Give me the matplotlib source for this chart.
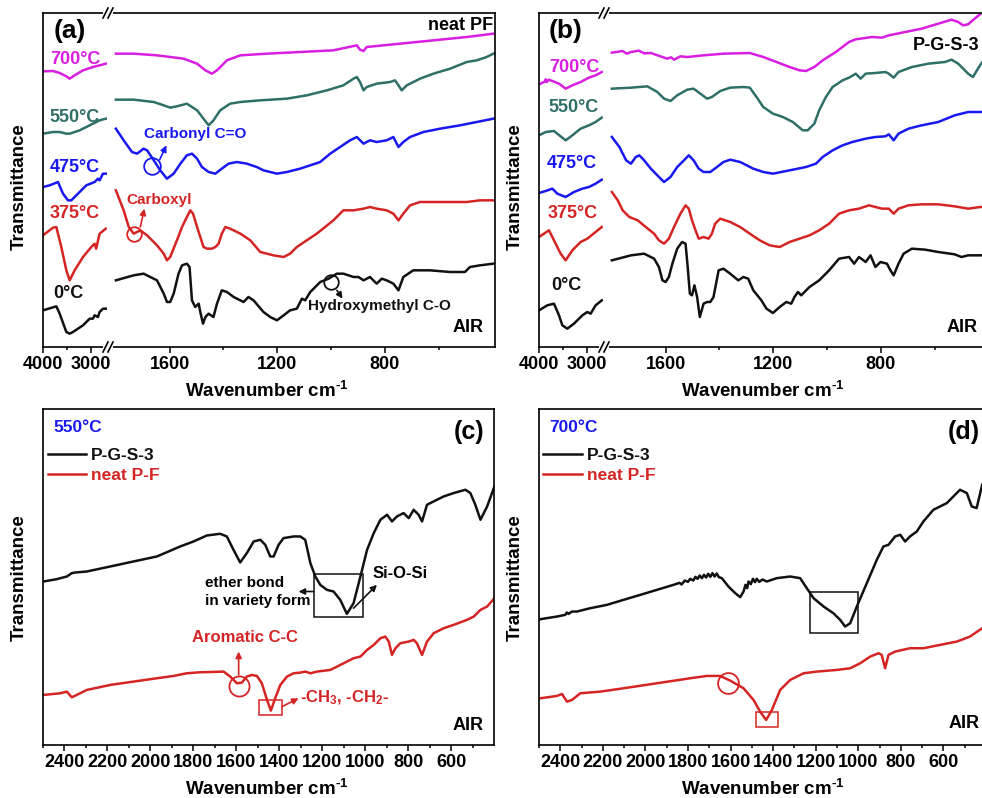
import matplotlib
matplotlib.use('Agg')
import numpy as np
import matplotlib.pyplot as plt
from matplotlib.patches import Rectangle
from matplotlib.lines import Line2D

plt.rcParams['font.family'] = ['Liberation Sans', 'DejaVu Sans']
plt.rcParams['font.weight'] = 'bold'
plt.rcParams['mathtext.fontset'] = 'custom'
plt.rcParams['mathtext.rm'] = 'Liberation Sans:bold'
plt.rcParams['mathtext.it'] = 'Liberation Sans:bold'
plt.rcParams['mathtext.bf'] = 'Liberation Sans:bold'
plt.rcParams['mathtext.default'] = 'rm'

# ============================================================
# spectra: (wavenumber cm-1, transmittance a.u.)
# HI = 4000-2700 window, LO = 1800-400 window
# ============================================================

# ---- (a) neat PF ----
PF_0_HI = [(4000, 11.0), (3724, 12.2), (3655, 10.0), (3517, 4.5), (3448, 4.0), (3380, 4.5),
           (3172, 6.5), (3034, 8.5), (2966, 8.5), (2931, 9.5), (2862, 9.0), (2828, 10.5),
           (2759, 11.5), (2700, 11.5)]
PF_0_LO = [(1800, 20.0), (1734, 21.5), (1697, 22.0), (1647, 20.0), (1622, 16.0), (1610, 13.5),
           (1598, 13.5), (1585, 16.0), (1567, 22.0), (1554, 24.5), (1536, 25.0), (1526, 24.0),
           (1517, 14.0), (1505, 12.0), (1492, 13.0), (1486, 10.5), (1476, 7.0), (1467, 9.0),
           (1455, 10.0), (1437, 9.0), (1424, 13.0), (1406, 17.0), (1387, 16.5), (1362, 15.0),
           (1325, 13.5), (1307, 15.0), (1288, 14.0), (1251, 10.5), (1226, 9.0), (1201, 8.0),
           (1176, 9.5), (1152, 11.0), (1127, 11.5), (1108, 14.5), (1096, 14.0), (1077, 16.5),
           (1040, 19.5), (1009, 20.5), (978, 22.0), (954, 22.0), (916, 21.0), (898, 21.0),
           (879, 20.0), (855, 21.0), (830, 19.0), (811, 20.5), (793, 20.0), (768, 19.0),
           (749, 17.0), (731, 21.0), (694, 23.0), (632, 23.0), (557, 22.5), (502, 22.5),
           (483, 24.0), (446, 24.5), (396, 25.0)]

PF_375_HI = [(4000, 33.5), (3793, 35.8), (3724, 36.0), (3621, 30.0), (3517, 23.0), (3448, 20.0),
             (3345, 23.0), (3172, 27.0), (3000, 30.0), (2931, 31.0), (2900, 29.5), (2828, 34.0),
             (2700, 35.5)]
PF_375_LO = [(1800, 47.0), (1771, 41.0), (1752, 36.0), (1734, 34.0), (1709, 35.0), (1684, 33.5),
             (1647, 30.5), (1622, 28.0), (1610, 26.0), (1598, 27.0), (1573, 32.0), (1554, 36.0),
             (1536, 39.0), (1523, 41.0), (1513, 40.0), (1498, 36.0), (1486, 33.0), (1474, 30.0),
             (1461, 29.5), (1443, 29.5), (1430, 30.0), (1418, 31.0), (1406, 34.0), (1393, 36.0),
             (1375, 35.5), (1337, 34.0), (1300, 32.0), (1263, 28.5), (1214, 27.5), (1176, 27.0),
             (1152, 28.0), (1127, 30.0), (1090, 32.0), (1053, 34.0), (1022, 36.0), (991, 38.0),
             (954, 41.0), (916, 41.0), (879, 41.5), (855, 42.0), (830, 41.5), (793, 41.0),
             (768, 40.0), (749, 38.0), (731, 40.0), (706, 42.5), (669, 43.5), (557, 43.5),
             (495, 43.5), (446, 44.0), (396, 44.0)]

PF_475_HI = [(4000, 48.0), (3862, 48.5), (3690, 49.5), (3586, 46.0), (3483, 44.0), (3414, 44.0),
             (3276, 46.0), (3103, 48.5), (2931, 49.5), (2862, 50.5), (2828, 50.0), (2759, 52.0),
             (2700, 52.0)]
PF_475_LO = [(1800, 65.5), (1771, 62.0), (1740, 58.5), (1721, 58.0), (1697, 59.5), (1684, 59.0),
             (1659, 56.0), (1635, 53.0), (1610, 50.5), (1585, 52.0), (1560, 55.0), (1536, 57.5),
             (1517, 58.0), (1498, 56.5), (1480, 54.0), (1455, 52.5), (1430, 52.0), (1406, 53.5),
             (1381, 55.0), (1350, 55.5), (1313, 55.0), (1276, 54.0), (1251, 53.0), (1226, 52.5),
             (1201, 52.0), (1164, 52.5), (1115, 53.5), (1077, 54.5), (1040, 55.5), (1003, 58.0),
             (966, 60.0), (929, 62.0), (904, 63.0), (879, 61.0), (855, 62.0), (830, 61.5),
             (793, 62.0), (768, 63.0), (749, 60.0), (731, 61.5), (706, 63.0), (656, 64.5),
             (594, 65.5), (520, 66.5), (458, 67.5), (396, 68.5)]

PF_550_HI = [(4000, 64.0), (3793, 64.5), (3655, 64.5), (3517, 64.0), (3448, 64.0), (3241, 65.0),
             (3034, 66.5), (2828, 68.0), (2700, 68.5)]
PF_550_LO = [(1800, 74.2), (1734, 74.2), (1659, 73.5), (1622, 72.5), (1598, 71.8), (1573, 72.2),
             (1536, 73.0), (1498, 71.0), (1474, 68.5), (1455, 66.5), (1437, 68.0), (1412, 71.0),
             (1375, 73.0), (1337, 73.5), (1263, 74.0), (1164, 74.5), (1090, 75.5), (1015, 77.0),
             (954, 78.5), (916, 80.5), (904, 81.0), (892, 79.5), (879, 77.0), (867, 78.0),
             (830, 79.0), (780, 79.5), (762, 80.0), (749, 78.5), (737, 77.0), (718, 78.5),
             (669, 80.5), (619, 82.0), (557, 83.5), (495, 85.5), (458, 86.0), (421, 87.0),
             (396, 88.0)]

PF_700_HI = [(4000, 82.7), (3793, 82.8), (3655, 82.2), (3517, 81.2), (3448, 80.5), (3345, 81.5),
             (3172, 83.0), (2966, 84.0), (2828, 84.5), (2700, 85.0)]
PF_700_LO = [(1800, 88.0), (1734, 88.0), (1647, 87.5), (1548, 86.5), (1498, 85.0), (1467, 83.0),
             (1443, 82.0), (1424, 83.0), (1387, 86.0), (1337, 87.5), (1238, 88.0), (1115, 88.5),
             (991, 89.0), (904, 90.5), (892, 89.2), (879, 88.8), (867, 90.0), (743, 91.0),
             (619, 92.0), (495, 93.0), (396, 94.0)]

# ---- (b) P-G-S-3 ----
PGS_0_HI = [(4000, 11.0), (3828, 12.5), (3690, 13.0), (3586, 9.5), (3517, 6.5), (3414, 5.5),
            (3276, 7.0), (3103, 9.5), (3000, 10.5), (2931, 10.0), (2828, 12.5), (2700, 14.0)]
PGS_0_LO = [(1800, 26.0), (1729, 27.5), (1680, 28.0), (1643, 26.5), (1625, 24.0), (1612, 20.0),
            (1600, 19.5), (1588, 21.0), (1575, 25.0), (1557, 29.5), (1539, 31.5), (1526, 31.0),
            (1518, 24.0), (1510, 16.0), (1502, 15.5), (1493, 18.5), (1483, 15.0), (1473, 9.0),
            (1459, 13.0), (1446, 13.5), (1434, 13.5), (1422, 15.0), (1403, 23.0), (1385, 23.5),
            (1360, 22.0), (1330, 20.0), (1311, 21.0), (1293, 20.5), (1274, 17.0), (1244, 14.0),
            (1225, 11.5), (1201, 10.2), (1176, 12.0), (1151, 13.5), (1133, 13.0), (1121, 15.0),
            (1108, 16.5), (1096, 15.5), (1065, 18.0), (1029, 20.0), (992, 23.0), (955, 26.5),
            (918, 27.0), (899, 25.0), (881, 27.0), (856, 25.5), (838, 27.5), (820, 24.0),
            (801, 25.5), (777, 25.0), (764, 23.0), (752, 21.5), (734, 25.0), (715, 28.0),
            (684, 29.5), (635, 29.2), (586, 28.5), (525, 27.8), (500, 27.0), (475, 27.5),
            (431, 27.5), (400, 27.6)]

PGS_375_HI = [(4000, 33.0), (3897, 34.0), (3793, 35.0), (3690, 32.0), (3552, 28.0), (3448, 26.0),
              (3310, 29.0), (3138, 31.5), (3000, 32.5), (2828, 34.5), (2700, 36.0)]
PGS_375_LO = [(1800, 46.5), (1778, 44.0), (1760, 41.0), (1735, 39.0), (1704, 38.0), (1674, 36.0),
              (1643, 34.0), (1625, 32.0), (1606, 31.0), (1588, 32.5), (1569, 36.0), (1545, 40.0),
              (1526, 42.5), (1514, 41.5), (1502, 38.0), (1489, 35.0), (1477, 32.5), (1459, 33.0),
              (1440, 32.5), (1428, 34.0), (1416, 37.0), (1397, 38.5), (1360, 37.5), (1323, 36.0),
              (1287, 34.0), (1250, 32.0), (1213, 30.5), (1176, 30.0), (1139, 31.5), (1102, 32.5),
              (1065, 33.5), (1029, 35.0), (992, 37.0), (955, 40.0), (918, 41.0), (881, 41.5),
              (844, 42.5), (820, 42.0), (795, 41.5), (770, 41.5), (752, 40.0), (734, 41.5),
              (697, 42.5), (648, 42.8), (586, 42.8), (525, 42.2), (475, 41.5), (431, 42.0),
              (400, 42.0)]

PGS_475_HI = [(4000, 46.2), (3862, 46.8), (3724, 47.5), (3621, 46.0), (3448, 45.0), (3276, 46.5),
              (3103, 47.5), (2966, 48.0), (2828, 49.0), (2700, 50.2)]
PGS_475_LO = [(1800, 63.0), (1772, 60.0), (1747, 56.0), (1729, 55.0), (1711, 57.0), (1698, 57.5),
              (1680, 56.0), (1655, 53.5), (1631, 51.5), (1606, 49.5), (1582, 51.0), (1557, 54.0),
              (1532, 56.0), (1514, 57.5), (1496, 56.0), (1477, 53.5), (1459, 52.5), (1434, 52.5),
              (1409, 54.0), (1385, 55.5), (1360, 56.2), (1323, 55.5), (1274, 53.5), (1237, 52.5),
              (1201, 52.0), (1139, 53.0), (1078, 54.0), (1041, 55.0), (1016, 57.0), (979, 59.0),
              (942, 60.5), (906, 61.5), (856, 62.5), (820, 63.0), (783, 63.2), (770, 63.8),
              (752, 62.0), (734, 64.0), (697, 65.5), (648, 66.5), (586, 67.5), (525, 69.5),
              (475, 70.5), (431, 70.5), (400, 70.6)]

PGS_550_HI = [(4000, 63.5), (3862, 64.5), (3690, 64.8), (3552, 63.2), (3448, 62.0), (3310, 63.5),
              (3138, 65.5), (2966, 66.5), (2828, 67.5), (2700, 68.8)]
PGS_550_LO = [(1800, 77.5), (1729, 77.8), (1668, 78.2), (1631, 76.5), (1606, 74.5), (1582, 73.8),
              (1557, 75.5), (1520, 77.2), (1496, 77.5), (1471, 76.0), (1446, 74.5), (1428, 75.0),
              (1397, 76.8), (1360, 77.8), (1311, 78.0), (1287, 77.8), (1262, 75.0), (1237, 72.0),
              (1201, 70.0), (1164, 69.0), (1127, 67.5), (1090, 65.0), (1072, 65.0), (1047, 67.0),
              (1029, 71.0), (1004, 75.0), (979, 78.0), (942, 80.0), (918, 80.8), (893, 82.0),
              (875, 80.5), (856, 82.0), (820, 82.2), (783, 82.5), (770, 82.0), (752, 80.8),
              (734, 82.5), (684, 84.0), (623, 85.0), (561, 85.5), (537, 86.2), (512, 85.0),
              (475, 82.0), (457, 81.0), (431, 84.5), (400, 88.0)]

PGS_700_HI = [(4000, 78.8), (3880, 79.6), (3862, 80.3), (3840, 79.5), (3800, 80.2), (3724, 79.8),
              (3586, 79.0), (3448, 77.5), (3310, 78.5), (3138, 79.5), (2966, 80.8), (2828, 81.5),
              (2700, 82.5)]
PGS_700_LO = [(1800, 88.3), (1760, 88.8), (1745, 88.0), (1729, 88.5), (1700, 88.9), (1680, 88.1),
              (1655, 88.2), (1594, 86.5), (1580, 86.9), (1569, 86.2), (1545, 87.2), (1520, 87.0),
              (1459, 87.5), (1385, 88.0), (1287, 88.2), (1237, 87.0), (1188, 85.5), (1139, 84.0),
              (1102, 83.0), (1078, 82.8), (1047, 84.0), (1016, 86.0), (967, 88.5), (918, 91.5),
              (893, 92.3), (832, 93.0), (795, 92.8), (770, 93.5), (709, 94.5), (648, 95.5),
              (586, 97.0), (537, 98.2), (512, 97.5), (494, 96.5), (475, 96.8), (451, 98.5),
              (431, 99.8)]

# ---- (c) 550 C and (d) 700 C, 2500-400 cm-1 ----
C_PGS = [(2498, 49.0), (2436, 49.7), (2389, 50.5), (2366, 51.5), (2350, 51.7), (2296, 52.0),
         (2187, 53.5), (2079, 55.0), (1970, 56.5), (1861, 59.5), (1799, 61.0), (1737, 62.8),
         (1675, 63.3), (1644, 62.5), (1613, 58.5), (1582, 54.7), (1551, 57.5), (1519, 61.0),
         (1488, 61.5), (1465, 60.0), (1442, 56.5), (1426, 56.5), (1403, 60.0), (1380, 62.0),
         (1333, 62.5), (1302, 62.5), (1279, 61.5), (1255, 54.5), (1232, 50.5), (1209, 48.0),
         (1178, 46.5), (1147, 46.0), (1116, 43.5), (1085, 39.3), (1054, 42.5), (1022, 50.5),
         (991, 58.5), (960, 63.5), (929, 67.5), (898, 69.0), (875, 67.0), (852, 68.5),
         (821, 69.5), (797, 68.0), (774, 70.5), (751, 69.0), (735, 67.0), (712, 72.0),
         (681, 73.0), (634, 74.5), (588, 75.5), (533, 76.5), (510, 75.5), (487, 72.0),
         (463, 67.5), (432, 71.5), (398, 77.5)]
C_PF = [(2498, 15.0), (2420, 15.5), (2389, 16.0), (2366, 14.3), (2343, 15.0), (2296, 16.5),
        (2187, 18.0), (2079, 19.0), (1970, 20.0), (1892, 20.7), (1830, 21.5), (1768, 21.8),
        (1706, 21.9), (1659, 22.0), (1628, 20.5), (1597, 18.5), (1574, 18.7), (1551, 20.5),
        (1527, 21.0), (1504, 20.7), (1481, 18.5), (1457, 13.5), (1439, 10.3), (1419, 14.0),
        (1395, 18.0), (1364, 20.5), (1333, 21.5), (1302, 21.7), (1279, 22.0), (1255, 21.5),
        (1224, 22.0), (1162, 22.5), (1100, 24.5), (1054, 26.0), (1022, 26.5), (991, 28.5),
        (960, 30.0), (929, 32.0), (906, 32.5), (890, 31.0), (875, 27.0), (859, 29.0),
        (836, 30.5), (797, 31.0), (774, 31.5), (759, 30.5), (735, 27.0), (712, 31.0),
        (681, 33.5), (634, 35.0), (588, 36.0), (526, 37.5), (494, 38.5), (463, 40.5),
        (432, 41.5), (398, 44.0)]

D_PGS = [(2494, 37.7), (2416, 38.5), (2377, 39.0), (2369, 39.7), (2361, 39.3), (2345, 40.0),
         (2322, 40.0), (2259, 41.0), (2181, 42.0), (2103, 43.5), (2024, 45.0), (1946, 46.5),
         (1868, 48.0), (1840, 48.6), (1830, 48.1), (1815, 49.3), (1800, 48.9), (1790, 49.8),
         (1775, 49.3), (1765, 50.4), (1755, 49.8), (1745, 50.8), (1735, 50.0), (1725, 51.0),
         (1715, 50.2), (1705, 51.3), (1695, 50.4), (1685, 51.5), (1675, 50.5), (1665, 51.4),
         (1655, 50.3), (1641, 50.0), (1610, 47.5), (1578, 45.5), (1555, 44.3), (1539, 46.0),
         (1530, 48.0), (1522, 47.0), (1516, 49.0), (1505, 48.2), (1495, 49.8), (1485, 48.8),
         (1477, 49.8), (1465, 48.9), (1450, 49.6), (1430, 49.0), (1383, 50.0), (1320, 50.5),
         (1273, 50.0), (1242, 47.0), (1210, 44.0), (1163, 41.5), (1117, 39.5), (1085, 37.5),
         (1062, 35.5), (1038, 36.5), (1007, 41.5), (960, 48.5), (913, 55.5), (882, 59.5),
         (858, 60.0), (827, 62.5), (803, 63.0), (780, 61.0), (757, 62.5), (725, 64.0),
         (694, 67.0), (647, 70.5), (584, 72.5), (522, 76.5), (490, 75.5), (467, 71.5),
         (444, 71.0), (418, 78.0), (400, 80.0)]
D_PF = [(2494, 14.0), (2416, 14.7), (2392, 15.3), (2369, 13.0), (2345, 13.5), (2306, 15.5),
        (2212, 16.0), (2103, 17.0), (1946, 18.5), (1790, 20.0), (1711, 20.7), (1649, 20.7),
        (1602, 19.3), (1539, 17.0), (1492, 13.5), (1461, 10.0), (1433, 7.5), (1406, 10.5),
        (1367, 16.5), (1320, 19.5), (1257, 21.5), (1195, 22.0), (1101, 22.5), (1038, 23.0),
        (991, 24.5), (944, 26.5), (905, 27.5), (890, 27.0), (874, 23.0), (858, 27.0),
        (827, 28.0), (757, 29.0), (694, 29.0), (616, 30.0), (537, 31.0), (475, 32.5),
        (418, 35.0), (400, 36.0)]

TEMPS = ['700°C', '550°C', '475°C', '375°C', '0°C']

BLACK = '#111111'
RED = '#d42424'
BLUE = '#1818f0'
TEAL = '#2f6f68'
MAGENTA = '#d81ee0'
TEMP_COLORS = [MAGENTA, TEAL, BLUE, RED, BLACK]

XLABEL = 'Wavenumber cm$^{\\text{-1}}$'

W, H = 982, 798
fig = plt.figure(figsize=(W / 100, H / 100), dpi=100)
fig.patch.set_facecolor('white')


def px_axes(l, t, r, b):
    ax = fig.add_axes([l / W, 1 - b / H, (r - l) / W, (b - t) / H])
    ax.set_yticks([])
    for s in ax.spines.values():
        s.set_linewidth(1.2)
    ax.tick_params(axis='x', which='major', direction='out', length=4.3, width=1.1,
                   labelsize=13, pad=2.5, top=False)
    ax.tick_params(axis='x', which='minor', direction='out', length=2.5, width=1.1, top=False)
    return ax


def ftext(px, py, s, **kw):
    kw.setdefault('fontweight', 'bold')
    return fig.text(px / W, 1 - py / H, s, **kw)


def fline(xs, ys, **kw):
    fig.add_artist(Line2D(np.array(xs) / W, 1 - np.array(ys) / H,
                          transform=fig.transFigure, **kw))


def curve(ax, pts, color):
    wn, t = np.array(pts).T
    ax.plot(wn, t, color=color, lw=1.8)


def arrow(ax, tail, tip, color):
    ax.annotate('', xy=tip, xytext=tail,
                arrowprops=dict(arrowstyle='-|>', color=color, lw=1.2,
                                mutation_scale=9, shrinkA=0, shrinkB=0))


def broken_panel(x0, hi_sets, lo_sets):
    lo = px_axes(x0, 13, x0 + 64, 347)
    lo.set_xlim(4000, 2675)
    lo.set_ylim(0, 100.2)
    lo.spines['right'].set_visible(False)
    lo.set_xticks([4000, 3000])
    lo.set_xticks([3500], minor=True)

    hi = px_axes(x0 + 64, 13, x0 + 452, 347)
    hi.set_xlim(1833, 390)
    hi.set_ylim(0, 100.2)
    hi.spines['left'].set_visible(False)
    hi.set_xticks([1600, 1200, 800])
    hi.set_xticks([1400, 1000, 600], minor=True)

    for pts, c in zip(hi_sets, TEMP_COLORS):
        curve(lo, pts, c)
    for pts, c in zip(lo_sets, TEMP_COLORS):
        curve(hi, pts, c)

    # axis break: white gap plus "//"
    for yb in (13, 347):
        fig.add_artist(Rectangle(((x0 + 60) / W, 1 - (yb + 3) / H), 10 / W, 6 / H,
                                 transform=fig.transFigure, facecolor='white',
                                 edgecolor='none', zorder=10))
        for xs in (x0 + 60, x0 + 65):
            fline([xs, xs + 5], [yb + 5, yb - 5], color='black', lw=1.2, zorder=11)

    fig.text((x0 + 224) / W, 1 - 397 / H, XLABEL, ha='center',
             va='baseline', fontsize=13.5, fontweight='bold')
    return lo, hi


# ---------------- (a) ----------------
lo_a, hi_a = broken_panel(43, [PF_700_HI, PF_550_HI, PF_475_HI, PF_375_HI, PF_0_HI],
                          [PF_700_LO, PF_550_LO, PF_475_LO, PF_375_LO, PF_0_LO])
ftext(19, 187, 'Transmittance', rotation=90, ha='center', va='center', fontsize=13.5)
ftext(70, 31, '(a)', ha='center', va='center', fontsize=19)
ftext(493, 25, 'neat PF', ha='right', va='center', fontsize=13)
ftext(484, 327, 'AIR', ha='right', va='center', fontsize=13)
for (py, px), s, c in zip([(60, 75), (117, 75), (168, 75), (214, 75), (293, 68)], TEMPS, TEMP_COLORS):
    ftext(px, py, s, ha='center', va='center', fontsize=13, color=c)

hi_a.plot(1666, 54.3, 'o', ms=12, mfc='none', mec=BLUE, mew=1.3)
arrow(hi_a, (1637, 56.2), (1612, 60.5), BLUE)
hi_a.text(1697, 64.0, 'Carbonyl C=O', color=BLUE, fontsize=11, ha='left', va='center')

hi_a.plot(1734, 34.0, 'o', ms=10.5, mfc='none', mec=RED, mew=1.3)
arrow(hi_a, (1709, 36.0), (1694, 41.5), RED)
hi_a.text(1761, 44.2, 'Carboxyl', color=RED, fontsize=11, ha='left', va='center')

hi_a.plot(999, 19.5, 'o', ms=10.5, mfc='none', mec=BLACK, mew=1.3)
arrow(hi_a, (978, 17.0), (957, 14.5), BLACK)
hi_a.text(1084, 12.2, 'Hydroxymethyl C-O', color=BLACK, fontsize=11, ha='left', va='center')

# ---------------- (b) ----------------
lo_b, hi_b = broken_panel(539, [PGS_700_HI, PGS_550_HI, PGS_475_HI, PGS_375_HI, PGS_0_HI],
                          [PGS_700_LO, PGS_550_LO, PGS_475_LO, PGS_375_LO, PGS_0_LO])
ftext(515, 187, 'Transmittance', rotation=90, ha='center', va='center', fontsize=13.5)
ftext(566, 31, '(b)', ha='center', va='center', fontsize=19)
ftext(913, 45, 'P-G-S-3', ha='left', va='center', fontsize=13)
ftext(947, 328, 'AIR', ha='left', va='center', fontsize=13)
for (py, px), s, c in zip([(67, 574), (108, 574), (164, 572), (213, 573), (285, 566)], TEMPS, TEMP_COLORS):
    ftext(px, py, s, ha='center', va='center', fontsize=13, color=c)


# ---------------- (c) / (d) ----------------
def full_panel(l, r, pgs, pf):
    ax = px_axes(l, 409, r, 745)
    ax.set_xlim(2500, 400)
    ax.set_ylim(0, 100.7)
    ax.set_xticks(np.arange(600, 2401, 200))
    ax.set_xticks(np.arange(500, 2501, 100), minor=True)
    curve(ax, pgs, BLACK)
    curve(ax, pf, RED)
    handles = [Line2D([], [], color=BLACK, lw=1.8, label='P-G-S-3'),
               Line2D([], [], color=RED, lw=1.8, label='neat P-F')]
    ax.legend(handles=handles, loc='upper left', bbox_to_anchor=(0.010, 0.885),
              frameon=False, fontsize=12.5, handlelength=2.2, handletextpad=0.3,
              labelspacing=0.28, borderpad=0, borderaxespad=0, labelcolor='linecolor')
    fig.text((l + 224) / W, 1 - 795 / H, XLABEL,
             ha='center', va='baseline', fontsize=13.5, fontweight='bold')
    return ax


ax_c = full_panel(43, 494, C_PGS, C_PF)
ftext(19, 578, 'Transmittance', rotation=90, ha='center', va='center', fontsize=13.5)
ftext(53, 428, '550°C', ha='left', va='center', fontsize=12.5, color=BLUE)
ftext(484, 432, '(c)', ha='right', va='center', fontsize=18)
ftext(484, 725, 'AIR', ha='right', va='center', fontsize=13)

ax_c.add_patch(Rectangle((1010, 38.3), 230, 13.0, fill=False, edgecolor=BLACK, lw=1.1))
arrow(ax_c, (1240, 46.0), (1310, 46.0), BLACK)
arrow(ax_c, (1054, 41.0), (945, 48.0), BLACK)
ftext(373, 573, 'Si-O-Si', ha='left', va='center', fontsize=12)
ftext(205, 592, 'ether bond\nin variety form', ha='left', va='center', fontsize=11,
      linespacing=1.3)

ax_c.plot(1589, 17.7, 'o', ms=14.5, mfc='none', mec=RED, mew=1.3)
arrow(ax_c, (1589, 21.0), (1589, 28.0), RED)
ftext(245, 638, 'Aromatic C-C', ha='center', va='center', fontsize=12, color=RED)
ax_c.add_patch(Rectangle((1387, 9.0), 109, 4.5, fill=False, edgecolor=RED, lw=1.1))
arrow(ax_c, (1387, 11.5), (1310, 14.0), RED)
ftext(300, 698, '-CH$_3$, -CH$_2$-', ha='left', va='center', fontsize=12, color=RED)

ax_d = full_panel(539, 986, D_PGS, D_PF)
ftext(515, 578, 'Transmittance', rotation=90, ha='center', va='center', fontsize=13.5)
ftext(549, 427, '700°C', ha='left', va='center', fontsize=12.5, color=BLUE)
ftext(948, 432, '(d)', ha='left', va='center', fontsize=18)
ftext(949, 723, 'AIR', ha='left', va='center', fontsize=13)

ax_d.add_patch(Rectangle((999, 33.5), 227, 12.5, fill=False, edgecolor=BLACK, lw=1.1))
ax_d.plot(1614, 18.5, 'o', ms=15, mfc='none', mec=RED, mew=1.3)
ax_d.add_patch(Rectangle((1375, 5.5), 106, 4.5, fill=False, edgecolor=RED, lw=1.1))

fig.savefig('out.png', dpi=100)
